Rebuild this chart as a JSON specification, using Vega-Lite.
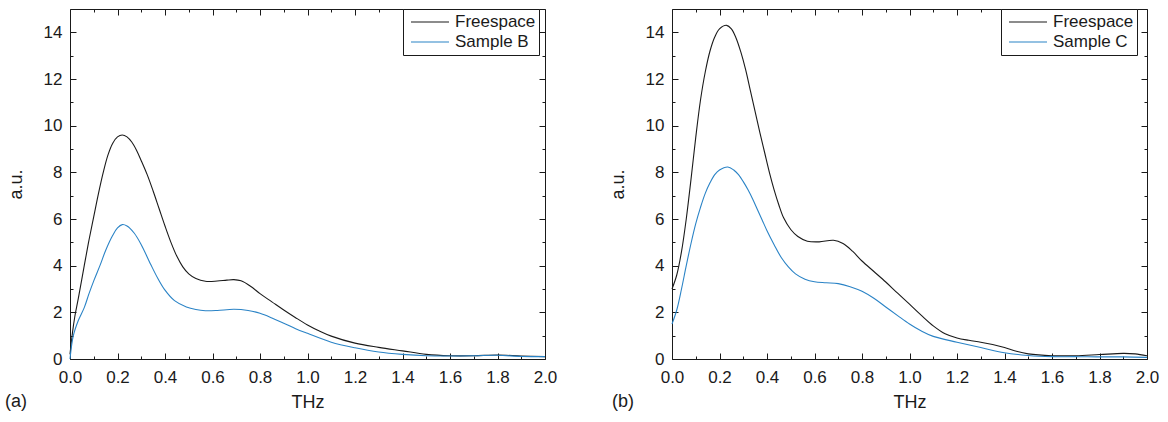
{
  "$schema": "https://vega.github.io/schema/vega-lite/v6.json",
  "padding": {"left": 5, "top": 8, "right": 5, "bottom": 2},
  "background": "white",
  "config": {
    "font": "Liberation Sans",
    "view": {"stroke": null},
    "axis": {"labelFont": "Liberation Sans", "labelFontSize": 17, "labelColor": "#1a1a1a", "titleFont": "Liberation Sans", "titleFontSize": 18, "titleFontWeight": "normal", "titleColor": "#1a1a1a", "tickColor": "#1a1a1a", "domainColor": "#1a1a1a", "tickWidth": 1, "domainWidth": 1, "grid": false, "labelFlush": false, "labelOverlap": false},
    "legend": {"labelFont": "Liberation Sans", "labelFontSize": 17, "labelColor": "#1a1a1a"},
    "title": {"font": "Liberation Sans", "fontSize": 18, "fontWeight": "normal", "color": "#1a1a1a"}
  },
  "datasets": {
    "a": [
      {"thz": 0.0, "val": 0.2, "series": "Freespace"},
      {"thz": 0.01, "val": 1.1, "series": "Freespace"},
      {"thz": 0.02, "val": 1.8, "series": "Freespace"},
      {"thz": 0.035, "val": 2.6, "series": "Freespace"},
      {"thz": 0.06, "val": 4.0, "series": "Freespace"},
      {"thz": 0.08, "val": 5.1, "series": "Freespace"},
      {"thz": 0.1, "val": 6.1, "series": "Freespace"},
      {"thz": 0.12, "val": 7.1, "series": "Freespace"},
      {"thz": 0.14, "val": 8.0, "series": "Freespace"},
      {"thz": 0.16, "val": 8.75, "series": "Freespace"},
      {"thz": 0.18, "val": 9.25, "series": "Freespace"},
      {"thz": 0.2, "val": 9.52, "series": "Freespace"},
      {"thz": 0.22, "val": 9.6, "series": "Freespace"},
      {"thz": 0.24, "val": 9.52, "series": "Freespace"},
      {"thz": 0.26, "val": 9.3, "series": "Freespace"},
      {"thz": 0.28, "val": 8.95, "series": "Freespace"},
      {"thz": 0.3, "val": 8.5, "series": "Freespace"},
      {"thz": 0.325, "val": 7.9, "series": "Freespace"},
      {"thz": 0.35, "val": 7.2, "series": "Freespace"},
      {"thz": 0.375, "val": 6.45, "series": "Freespace"},
      {"thz": 0.4, "val": 5.7, "series": "Freespace"},
      {"thz": 0.425, "val": 5.0, "series": "Freespace"},
      {"thz": 0.45, "val": 4.4, "series": "Freespace"},
      {"thz": 0.475, "val": 3.95, "series": "Freespace"},
      {"thz": 0.5, "val": 3.65, "series": "Freespace"},
      {"thz": 0.53, "val": 3.45, "series": "Freespace"},
      {"thz": 0.57, "val": 3.33, "series": "Freespace"},
      {"thz": 0.62, "val": 3.34, "series": "Freespace"},
      {"thz": 0.66, "val": 3.38, "series": "Freespace"},
      {"thz": 0.69, "val": 3.4, "series": "Freespace"},
      {"thz": 0.72, "val": 3.35, "series": "Freespace"},
      {"thz": 0.76, "val": 3.12, "series": "Freespace"},
      {"thz": 0.8, "val": 2.8, "series": "Freespace"},
      {"thz": 0.85, "val": 2.45, "series": "Freespace"},
      {"thz": 0.9, "val": 2.1, "series": "Freespace"},
      {"thz": 0.95, "val": 1.77, "series": "Freespace"},
      {"thz": 1.0, "val": 1.46, "series": "Freespace"},
      {"thz": 1.05, "val": 1.2, "series": "Freespace"},
      {"thz": 1.1, "val": 0.98, "series": "Freespace"},
      {"thz": 1.2, "val": 0.68, "series": "Freespace"},
      {"thz": 1.3, "val": 0.5, "series": "Freespace"},
      {"thz": 1.4, "val": 0.35, "series": "Freespace"},
      {"thz": 1.5, "val": 0.2, "series": "Freespace"},
      {"thz": 1.6, "val": 0.14, "series": "Freespace"},
      {"thz": 1.7, "val": 0.14, "series": "Freespace"},
      {"thz": 1.8, "val": 0.17, "series": "Freespace"},
      {"thz": 1.9, "val": 0.13, "series": "Freespace"},
      {"thz": 2.0, "val": 0.1, "series": "Freespace"},
      {"thz": 0.0, "val": 0.0, "series": "Sample B"},
      {"thz": 0.014, "val": 1.0, "series": "Sample B"},
      {"thz": 0.035, "val": 1.65, "series": "Sample B"},
      {"thz": 0.06, "val": 2.2, "series": "Sample B"},
      {"thz": 0.08, "val": 2.8, "series": "Sample B"},
      {"thz": 0.1, "val": 3.35, "series": "Sample B"},
      {"thz": 0.126, "val": 4.0, "series": "Sample B"},
      {"thz": 0.15, "val": 4.65, "series": "Sample B"},
      {"thz": 0.18, "val": 5.3, "series": "Sample B"},
      {"thz": 0.2, "val": 5.62, "series": "Sample B"},
      {"thz": 0.22, "val": 5.76, "series": "Sample B"},
      {"thz": 0.24, "val": 5.7, "series": "Sample B"},
      {"thz": 0.27, "val": 5.4, "series": "Sample B"},
      {"thz": 0.3, "val": 4.9, "series": "Sample B"},
      {"thz": 0.34, "val": 4.05, "series": "Sample B"},
      {"thz": 0.37, "val": 3.45, "series": "Sample B"},
      {"thz": 0.4, "val": 2.95, "series": "Sample B"},
      {"thz": 0.44, "val": 2.5, "series": "Sample B"},
      {"thz": 0.49, "val": 2.23, "series": "Sample B"},
      {"thz": 0.53, "val": 2.12, "series": "Sample B"},
      {"thz": 0.57, "val": 2.07, "series": "Sample B"},
      {"thz": 0.62, "val": 2.08, "series": "Sample B"},
      {"thz": 0.69, "val": 2.13, "series": "Sample B"},
      {"thz": 0.75, "val": 2.08, "series": "Sample B"},
      {"thz": 0.8, "val": 1.96, "series": "Sample B"},
      {"thz": 0.85, "val": 1.76, "series": "Sample B"},
      {"thz": 0.9, "val": 1.53, "series": "Sample B"},
      {"thz": 0.95, "val": 1.3, "series": "Sample B"},
      {"thz": 1.0, "val": 1.1, "series": "Sample B"},
      {"thz": 1.1, "val": 0.72, "series": "Sample B"},
      {"thz": 1.2, "val": 0.48, "series": "Sample B"},
      {"thz": 1.3, "val": 0.3, "series": "Sample B"},
      {"thz": 1.4, "val": 0.2, "series": "Sample B"},
      {"thz": 1.5, "val": 0.14, "series": "Sample B"},
      {"thz": 1.6, "val": 0.13, "series": "Sample B"},
      {"thz": 1.7, "val": 0.14, "series": "Sample B"},
      {"thz": 1.8, "val": 0.16, "series": "Sample B"},
      {"thz": 1.9, "val": 0.11, "series": "Sample B"},
      {"thz": 2.0, "val": 0.1, "series": "Sample B"}
    ],
    "b": [
      {"thz": 0.0, "val": 3.0, "series": "Freespace"},
      {"thz": 0.02, "val": 3.6, "series": "Freespace"},
      {"thz": 0.04, "val": 4.6, "series": "Freespace"},
      {"thz": 0.06, "val": 6.0, "series": "Freespace"},
      {"thz": 0.08, "val": 7.7, "series": "Freespace"},
      {"thz": 0.1, "val": 9.5, "series": "Freespace"},
      {"thz": 0.12, "val": 11.1, "series": "Freespace"},
      {"thz": 0.14, "val": 12.3, "series": "Freespace"},
      {"thz": 0.16, "val": 13.2, "series": "Freespace"},
      {"thz": 0.18, "val": 13.8, "series": "Freespace"},
      {"thz": 0.2, "val": 14.15, "series": "Freespace"},
      {"thz": 0.23, "val": 14.3, "series": "Freespace"},
      {"thz": 0.25, "val": 14.15, "series": "Freespace"},
      {"thz": 0.27, "val": 13.75, "series": "Freespace"},
      {"thz": 0.29, "val": 13.15, "series": "Freespace"},
      {"thz": 0.31, "val": 12.4, "series": "Freespace"},
      {"thz": 0.33, "val": 11.5, "series": "Freespace"},
      {"thz": 0.35, "val": 10.6, "series": "Freespace"},
      {"thz": 0.37, "val": 9.7, "series": "Freespace"},
      {"thz": 0.39, "val": 8.85, "series": "Freespace"},
      {"thz": 0.41, "val": 8.0, "series": "Freespace"},
      {"thz": 0.43, "val": 7.25, "series": "Freespace"},
      {"thz": 0.45, "val": 6.6, "series": "Freespace"},
      {"thz": 0.47, "val": 6.05, "series": "Freespace"},
      {"thz": 0.5, "val": 5.55, "series": "Freespace"},
      {"thz": 0.53, "val": 5.25, "series": "Freespace"},
      {"thz": 0.57, "val": 5.05, "series": "Freespace"},
      {"thz": 0.62, "val": 5.02, "series": "Freespace"},
      {"thz": 0.68, "val": 5.09, "series": "Freespace"},
      {"thz": 0.72, "val": 4.95, "series": "Freespace"},
      {"thz": 0.76, "val": 4.62, "series": "Freespace"},
      {"thz": 0.8, "val": 4.2, "series": "Freespace"},
      {"thz": 0.85, "val": 3.75, "series": "Freespace"},
      {"thz": 0.9, "val": 3.3, "series": "Freespace"},
      {"thz": 0.95, "val": 2.82, "series": "Freespace"},
      {"thz": 1.0, "val": 2.35, "series": "Freespace"},
      {"thz": 1.05, "val": 1.87, "series": "Freespace"},
      {"thz": 1.1, "val": 1.42, "series": "Freespace"},
      {"thz": 1.15, "val": 1.08, "series": "Freespace"},
      {"thz": 1.2, "val": 0.9, "series": "Freespace"},
      {"thz": 1.25, "val": 0.8, "series": "Freespace"},
      {"thz": 1.3, "val": 0.72, "series": "Freespace"},
      {"thz": 1.35, "val": 0.62, "series": "Freespace"},
      {"thz": 1.4, "val": 0.49, "series": "Freespace"},
      {"thz": 1.45, "val": 0.33, "series": "Freespace"},
      {"thz": 1.5, "val": 0.22, "series": "Freespace"},
      {"thz": 1.6, "val": 0.14, "series": "Freespace"},
      {"thz": 1.7, "val": 0.14, "series": "Freespace"},
      {"thz": 1.8, "val": 0.19, "series": "Freespace"},
      {"thz": 1.9, "val": 0.24, "series": "Freespace"},
      {"thz": 1.95, "val": 0.22, "series": "Freespace"},
      {"thz": 2.0, "val": 0.14, "series": "Freespace"},
      {"thz": 0.0, "val": 1.5, "series": "Sample C"},
      {"thz": 0.02, "val": 2.1, "series": "Sample C"},
      {"thz": 0.04, "val": 3.0, "series": "Sample C"},
      {"thz": 0.06, "val": 4.0, "series": "Sample C"},
      {"thz": 0.08, "val": 4.95, "series": "Sample C"},
      {"thz": 0.1, "val": 5.8, "series": "Sample C"},
      {"thz": 0.12, "val": 6.5, "series": "Sample C"},
      {"thz": 0.14, "val": 7.1, "series": "Sample C"},
      {"thz": 0.16, "val": 7.55, "series": "Sample C"},
      {"thz": 0.18, "val": 7.9, "series": "Sample C"},
      {"thz": 0.2, "val": 8.1, "series": "Sample C"},
      {"thz": 0.235, "val": 8.23, "series": "Sample C"},
      {"thz": 0.26, "val": 8.1, "series": "Sample C"},
      {"thz": 0.28, "val": 7.9, "series": "Sample C"},
      {"thz": 0.3, "val": 7.6, "series": "Sample C"},
      {"thz": 0.32, "val": 7.25, "series": "Sample C"},
      {"thz": 0.34, "val": 6.85, "series": "Sample C"},
      {"thz": 0.36, "val": 6.4, "series": "Sample C"},
      {"thz": 0.38, "val": 5.95, "series": "Sample C"},
      {"thz": 0.4, "val": 5.5, "series": "Sample C"},
      {"thz": 0.43, "val": 4.9, "series": "Sample C"},
      {"thz": 0.46, "val": 4.35, "series": "Sample C"},
      {"thz": 0.49, "val": 3.95, "series": "Sample C"},
      {"thz": 0.52, "val": 3.65, "series": "Sample C"},
      {"thz": 0.56, "val": 3.42, "series": "Sample C"},
      {"thz": 0.6, "val": 3.31, "series": "Sample C"},
      {"thz": 0.65, "val": 3.27, "series": "Sample C"},
      {"thz": 0.7, "val": 3.23, "series": "Sample C"},
      {"thz": 0.75, "val": 3.1, "series": "Sample C"},
      {"thz": 0.8, "val": 2.9, "series": "Sample C"},
      {"thz": 0.85, "val": 2.6, "series": "Sample C"},
      {"thz": 0.9, "val": 2.23, "series": "Sample C"},
      {"thz": 0.95, "val": 1.86, "series": "Sample C"},
      {"thz": 1.0, "val": 1.5, "series": "Sample C"},
      {"thz": 1.05, "val": 1.2, "series": "Sample C"},
      {"thz": 1.1, "val": 0.97, "series": "Sample C"},
      {"thz": 1.2, "val": 0.72, "series": "Sample C"},
      {"thz": 1.3, "val": 0.49, "series": "Sample C"},
      {"thz": 1.4, "val": 0.27, "series": "Sample C"},
      {"thz": 1.5, "val": 0.15, "series": "Sample C"},
      {"thz": 1.6, "val": 0.1, "series": "Sample C"},
      {"thz": 1.7, "val": 0.1, "series": "Sample C"},
      {"thz": 1.8, "val": 0.09, "series": "Sample C"},
      {"thz": 1.9, "val": 0.09, "series": "Sample C"},
      {"thz": 2.0, "val": 0.07, "series": "Sample C"}
    ]
  },
  "resolve": {"scale": {"color": "independent"}, "legend": {"color": "independent"}},
  "spacing": 52,
  "hconcat": [
    {
      "data": {"name": "a"},
      "width": 475,
      "height": 350,
      "title": {"text": "(a)", "orient": "bottom", "anchor": "start", "frame": "group", "dx": -65, "offset": -18},
      "resolve": {"axis": {"x": "independent", "y": "independent"}},
      "layer": [
        {
          "mark": {"type": "line", "strokeWidth": 1.1, "interpolate": "catmull-rom"},
          "encoding": {
            "x": {"field": "thz", "type": "quantitative", "scale": {"domain": [0, 2], "nice": false}, "axis": {"orient": "bottom", "values": [0, 0.2, 0.4, 0.6, 0.8, 1.0, 1.2, 1.4, 1.6, 1.8, 2.0], "format": ".1f", "tickSize": -6, "labelPadding": 16, "title": "THz", "titlePadding": 8}},
            "y": {"field": "val", "type": "quantitative", "scale": {"domain": [0, 15], "nice": false}, "axis": {"orient": "left", "values": [0, 2, 4, 6, 8, 10, 12, 14], "tickSize": -6, "labelPadding": 14, "title": "a.u.", "titlePadding": 18}},
            "color": {"field": "series", "type": "nominal", "scale": {"domain": ["Freespace", "Sample B"], "range": ["#1a1a1a", "#2a83c6"]}, "legend": {"title": null, "orient": "none", "legendX": 333, "legendY": 0, "symbolType": "stroke", "symbolSize": 1444, "symbolStrokeWidth": 1.2, "clipHeight": 20, "rowPadding": 0, "padding": 3, "symbolOffset": 4, "labelOffset": 5, "strokeColor": "#1a1a1a", "fillColor": "white"}}
          }
        },
        {
          "mark": {"type": "line", "opacity": 0},
          "encoding": {
            "x": {"field": "thz", "type": "quantitative", "axis": {"orient": "bottom", "values": [0.1, 0.3, 0.5, 0.7, 0.9, 1.1, 1.3, 1.5, 1.7, 1.9], "tickSize": -3, "labels": false, "domain": false, "title": null}},
            "y": {"field": "val", "type": "quantitative", "axis": {"orient": "left", "values": [1, 3, 5, 7, 9, 11, 13], "tickSize": -3, "labels": false, "domain": false, "title": null}}
          }
        },
        {
          "mark": {"type": "line", "opacity": 0},
          "encoding": {
            "x": {"field": "thz", "type": "quantitative", "axis": {"orient": "top", "values": [0, 0.2, 0.4, 0.6, 0.8, 1.0, 1.2, 1.4, 1.6, 1.8, 2.0], "tickSize": -6, "labels": false, "title": null}},
            "y": {"field": "val", "type": "quantitative", "axis": {"orient": "right", "values": [0, 2, 4, 6, 8, 10, 12, 14], "tickSize": -6, "labels": false, "title": null}}
          }
        },
        {
          "mark": {"type": "line", "opacity": 0},
          "encoding": {
            "x": {"field": "thz", "type": "quantitative", "axis": {"orient": "top", "values": [0.1, 0.3, 0.5, 0.7, 0.9, 1.1, 1.3, 1.5, 1.7, 1.9], "tickSize": -3, "labels": false, "domain": false, "title": null}},
            "y": {"field": "val", "type": "quantitative", "axis": {"orient": "right", "values": [1, 3, 5, 7, 9, 11, 13], "tickSize": -3, "labels": false, "domain": false, "title": null}}
          }
        }
      ]
    },
    {
      "data": {"name": "b"},
      "width": 475,
      "height": 350,
      "title": {"text": "(b)", "orient": "bottom", "anchor": "start", "frame": "group", "dx": -60, "offset": -18},
      "resolve": {"axis": {"x": "independent", "y": "independent"}},
      "layer": [
        {
          "mark": {"type": "line", "strokeWidth": 1.1, "interpolate": "catmull-rom"},
          "encoding": {
            "x": {"field": "thz", "type": "quantitative", "scale": {"domain": [0, 2], "nice": false}, "axis": {"orient": "bottom", "values": [0, 0.2, 0.4, 0.6, 0.8, 1.0, 1.2, 1.4, 1.6, 1.8, 2.0], "format": ".1f", "tickSize": -6, "labelPadding": 16, "title": "THz", "titlePadding": 8}},
            "y": {"field": "val", "type": "quantitative", "scale": {"domain": [0, 15], "nice": false}, "axis": {"orient": "left", "values": [0, 2, 4, 6, 8, 10, 12, 14], "tickSize": -6, "labelPadding": 14, "title": "a.u.", "titlePadding": 18}},
            "color": {"field": "series", "type": "nominal", "scale": {"domain": ["Freespace", "Sample C"], "range": ["#1a1a1a", "#2a83c6"]}, "legend": {"title": null, "orient": "none", "legendX": 329, "legendY": 0, "symbolType": "stroke", "symbolSize": 1444, "symbolStrokeWidth": 1.2, "clipHeight": 20, "rowPadding": 0, "padding": 3, "symbolOffset": 4, "labelOffset": 5, "strokeColor": "#1a1a1a", "fillColor": "white"}}
          }
        },
        {
          "mark": {"type": "line", "opacity": 0},
          "encoding": {
            "x": {"field": "thz", "type": "quantitative", "axis": {"orient": "bottom", "values": [0.1, 0.3, 0.5, 0.7, 0.9, 1.1, 1.3, 1.5, 1.7, 1.9], "tickSize": -3, "labels": false, "domain": false, "title": null}},
            "y": {"field": "val", "type": "quantitative", "axis": {"orient": "left", "values": [1, 3, 5, 7, 9, 11, 13], "tickSize": -3, "labels": false, "domain": false, "title": null}}
          }
        },
        {
          "mark": {"type": "line", "opacity": 0},
          "encoding": {
            "x": {"field": "thz", "type": "quantitative", "axis": {"orient": "top", "values": [0, 0.2, 0.4, 0.6, 0.8, 1.0, 1.2, 1.4, 1.6, 1.8, 2.0], "tickSize": -6, "labels": false, "title": null}},
            "y": {"field": "val", "type": "quantitative", "axis": {"orient": "right", "values": [0, 2, 4, 6, 8, 10, 12, 14], "tickSize": -6, "labels": false, "title": null}}
          }
        },
        {
          "mark": {"type": "line", "opacity": 0},
          "encoding": {
            "x": {"field": "thz", "type": "quantitative", "axis": {"orient": "top", "values": [0.1, 0.3, 0.5, 0.7, 0.9, 1.1, 1.3, 1.5, 1.7, 1.9], "tickSize": -3, "labels": false, "domain": false, "title": null}},
            "y": {"field": "val", "type": "quantitative", "axis": {"orient": "right", "values": [1, 3, 5, 7, 9, 11, 13], "tickSize": -3, "labels": false, "domain": false, "title": null}}
          }
        }
      ]
    }
  ]
}
